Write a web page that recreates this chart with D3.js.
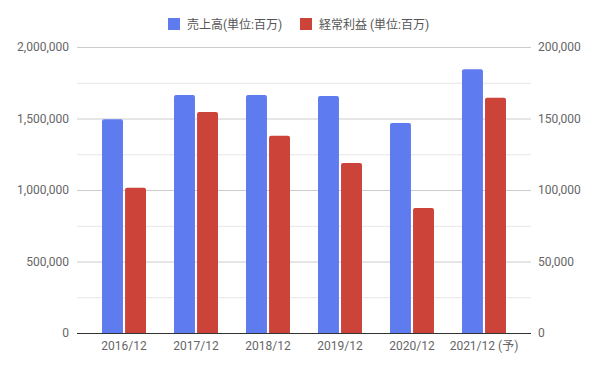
<!DOCTYPE html>
<html>
<head>
<meta charset="utf-8">
<script src="https://cdn.jsdelivr.net/npm/d3@7"></script>
<style>
  body { margin: 0; background: #fff; }
  text { font-family: Roboto, "Noto Sans CJK JP", sans-serif; }
</style>
</head>
<body>
<div id="chart"></div>
<script>
// data
var categories = ['2016/12', '2017/12', '2018/12', '2019/12', '2020/12', '2021/12 (予)'];
var sales = [1495000, 1665000, 1665000, 1658000, 1469000, 1845000];
var profit = [101500, 154500, 138000, 118800, 87500, 164500];
var seriesNames = ['売上高(単位:百万)', '経常利益 (単位:百万)'];
var leftTicks = [0, 500000, 1000000, 1500000, 2000000];
var rightTicks = [0, 50000, 100000, 150000, 200000];

var colors = ['#5f7bf0', '#cc4439'];

var width = 598, height = 370;
var plotLeft = 77, plotRight = 531, plotTop = 47, plotBottom = 333;

var svg = d3.select('#chart').append('svg')
  .attr('width', width)
  .attr('height', height);

var yLeft = d3.scaleLinear().domain([0, 2000000]).range([plotBottom, plotTop]);
var yRight = d3.scaleLinear().domain([0, 200000]).range([plotBottom, plotTop]);

var x = d3.scaleBand().domain(categories).range([plotLeft, plotRight]).paddingOuter(0.153).paddingInner(0);
var inner = d3.scaleBand().domain([0, 1]).range([14, x.bandwidth() - 14]).paddingInner(0.09);

var fmt = d3.format(',');

// minor + major grid lines every 250k
var grid = d3.range(250000, 2000001, 250000);
svg.append('g').selectAll('line')
  .data(grid)
  .enter().append('line')
    .attr('x1', plotLeft).attr('x2', plotRight)
    .attr('y1', d => yLeft(d) + 0.5).attr('y2', d => yLeft(d) + 0.5)
    .attr('stroke', d => d % 500000 === 0 ? '#cccccc' : '#e6e6e6');

// left axis labels
svg.append('g').selectAll('text')
  .data(leftTicks)
  .enter().append('text')
    .attr('x', 69)
    .attr('y', d => yLeft(d) + 4)
    .attr('text-anchor', 'end')
    .attr('font-size', 12)
    .attr('fill', '#666')
    .text(d => fmt(d));

// right axis labels
svg.append('g').selectAll('text')
  .data(rightTicks)
  .enter().append('text')
    .attr('x', 538)
    .attr('y', d => yRight(d) + 4)
    .attr('text-anchor', 'start')
    .attr('font-size', 12)
    .attr('fill', '#666')
    .text(d => fmt(d));

// bars
var rows = categories.map((c, i) => ({cat: c, vals: [yLeft(sales[i]), yRight(profit[i])]}));

function topRounded(x0, y0, w, h, r) {
  return 'M' + x0 + ',' + (y0 + h) +
    'V' + (y0 + r) +
    'Q' + x0 + ',' + y0 + ' ' + (x0 + r) + ',' + y0 +
    'H' + (x0 + w - r) +
    'Q' + (x0 + w) + ',' + y0 + ' ' + (x0 + w) + ',' + (y0 + r) +
    'V' + (y0 + h) + 'Z';
}

var groups = svg.append('g').selectAll('g')
  .data(rows)
  .enter().append('g')
    .attr('transform', d => 'translate(' + x(d.cat) + ',0)');

groups.selectAll('path')
  .data(d => d.vals.map((v, k) => ({k: k, y: v})))
  .enter().append('path')
    .attr('d', d => topRounded(inner(d.k), d.y, inner.bandwidth(), plotBottom - d.y, 2))
    .attr('fill', d => colors[d.k]);

// baseline
svg.append('line')
  .attr('x1', plotLeft).attr('x2', plotRight)
  .attr('y1', plotBottom + 0.5).attr('y2', plotBottom + 0.5)
  .attr('stroke', '#333');

// category labels
svg.append('g').selectAll('text')
  .data(categories)
  .enter().append('text')
    .attr('x', d => x(d) + x.bandwidth() / 2)
    .attr('y', 350)
    .attr('text-anchor', 'middle')
    .attr('font-size', 12)
    .attr('fill', '#666')
    .text(d => d);

// legend
var legendX = [168, 300];
var legend = svg.append('g').selectAll('g')
  .data(seriesNames)
  .enter().append('g')
    .attr('transform', (d, i) => 'translate(' + legendX[i] + ',18)');

legend.append('rect')
  .attr('width', 12).attr('height', 12)
  .attr('fill', (d, i) => colors[i]);

legend.append('text')
  .attr('x', 19).attr('y', 10.5)
  .attr('font-size', 12)
  .attr('fill', '#555')
  .text(d => d);
</script>
</body>
</html>
